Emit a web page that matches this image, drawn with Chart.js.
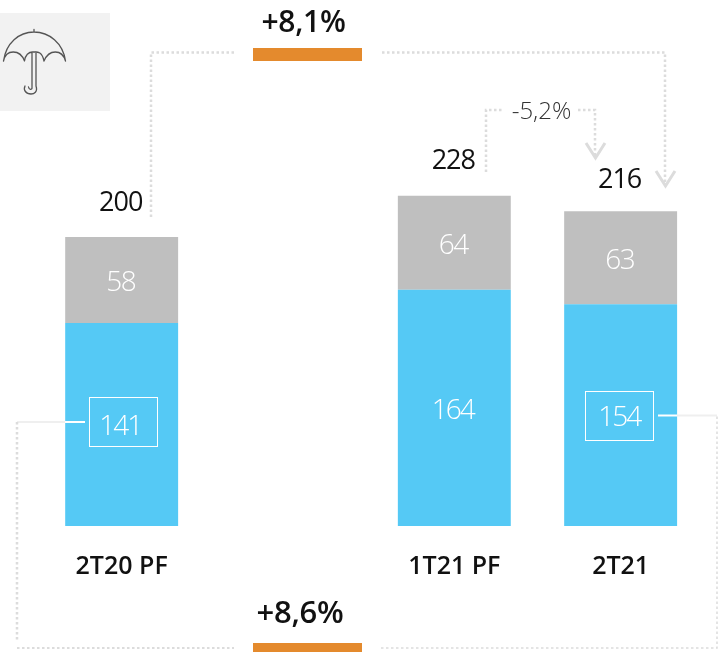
<!DOCTYPE html>
<html>
<head>
<meta charset="utf-8">
<style>html,body{margin:0;padding:0;background:#fff}canvas{display:block}</style>
<script src="https://cdn.jsdelivr.net/npm/chart.js@4"></script>
</head>
<body>
<canvas id="c" width="718" height="652"></canvas>
<script>
// Data. The blank category is the gap between the first bar and the others.
const categories = ['2T20 PF', '', '1T21 PF', '2T21'];
const blueValues = [141, null, 164, 154];
// Gray segment heights as drawn in the picture (in the same units as blue);
// the printed labels are slightly different in the source, kept separately.
const grayValues = [59.7, null, 65.3, 64.6];
const blueLabels = ['141', '', '164', '154'];
const grayLabels = ['58', '', '64', '63'];
const totalLabels = ['200', '', '228', '216'];
const growthTop = '+8,1%';
const growthBottom = '+8,6%';
const growthMiddle = '-5,2%';

const BLUE = '#55C9F5', GRAY = '#BFBFBF', ORANGE = '#E48A2D', DOT = '#DCDCDC';
const FONT = '"Open Sans"';
// label nudges relative to their bars
const totalOffset = [34, 0, 34, 31];
const boxes = [{ i: 0, dx: -33, dy: -27 }, { i: 3, dx: -36, dy: -24 }];

function txt(ctx, s, x, y, font, color, spacing) {
  ctx.font = font; ctx.fillStyle = color;
  ctx.textAlign = 'center'; ctx.textBaseline = 'middle';
  ctx.letterSpacing = (spacing || 0) + 'px';
  ctx.fillText(s, x, y);
  ctx.letterSpacing = '0px';
}
function poly(ctx, pts, color, width, dash) {
  ctx.save();
  ctx.strokeStyle = color; ctx.lineWidth = width; ctx.setLineDash(dash || []);
  ctx.beginPath();
  pts.forEach((p, i) => i ? ctx.lineTo(p[0], p[1]) : ctx.moveTo(p[0], p[1]));
  ctx.stroke();
  ctx.restore();
}
function umbrellaPath(ctx) {
  ctx.beginPath();
  ctx.moveTo(3.5, 61);
  ctx.bezierCurveTo(6, 43, 19, 32, 34, 32);
  ctx.bezierCurveTo(49, 32, 63, 43, 65.5, 61);
  ctx.moveTo(3.5, 61);
  ctx.bezierCurveTo(6, 49, 20, 49, 24.5, 61);
  ctx.bezierCurveTo(26, 51, 32, 52, 34, 52);
  ctx.bezierCurveTo(37, 52, 42, 51, 44, 61);
  ctx.bezierCurveTo(49, 49, 62, 49, 65.5, 61);
  ctx.moveTo(34, 32); ctx.lineTo(34, 29.5);
  ctx.moveTo(32, 52); ctx.lineTo(32, 88);
  ctx.moveTo(36, 52); ctx.lineTo(36, 86);
  ctx.bezierCurveTo(38, 92, 34, 94, 31, 94);
  ctx.bezierCurveTo(26, 94, 23, 90, 25, 86);
  ctx.moveTo(32, 88); ctx.bezierCurveTo(32, 90, 29, 90, 28.5, 87);
  ctx.stroke();
}

const overlay = {
  id: 'overlay',
  afterDatasetsDraw(chart) {
    const ctx = chart.ctx;
    const blue = chart.getDatasetMeta(0).data;
    const gray = chart.getDatasetMeta(1).data;
    ctx.save();

    // data labels tied to the bar elements
    categories.forEach((c, i) => {
      if (!c) return;
      const b = blue[i], g = gray[i];
      txt(ctx, blueLabels[i], b.x - 1.5, (b.y + b.base) / 2 + 3, '300 28px ' + FONT, '#FFFFFF', -2);
      txt(ctx, grayLabels[i], g.x - 1, (g.y + g.base) / 2 + 3.5, '300 28px ' + FONT, '#FFFFFF', -1.5);
      txt(ctx, totalLabels[i], g.x - 1, g.y - totalOffset[i], '400 27px ' + FONT, '#111111', -1);
    });

    // boxes around compared values
    ctx.strokeStyle = '#FFFFFF'; ctx.lineWidth = 1;
    boxes.forEach(o => {
      const b = blue[o.i], cy = (b.y + b.base) / 2;
      ctx.strokeRect(Math.round(b.x + o.dx) + 0.5, Math.round(cy + o.dy) + 0.5, 68, 49);
    });

    // white / light leader lines
    poly(ctx, [[17, 422], [65, 422]], '#EFEFEF', 2);
    poly(ctx, [[65, 422], [85, 422]], '#FFFFFF', 2);
    poly(ctx, [[658, 415.5], [677, 415.5]], '#FFFFFF', 2);
    poly(ctx, [[677, 415.5], [717, 415.5]], '#EFEFEF', 2);

    // dotted connectors
    const d = [2.5, 2.5];
    poly(ctx, [[151, 217], [151, 52.5], [234, 52.5]], DOT, 2.5, d);
    poly(ctx, [[382, 52.5], [665, 52.5], [665, 184]], DOT, 2.5, d);
    poly(ctx, [[486, 172], [486, 110], [502, 110]], DOT, 2.5, d);
    poly(ctx, [[578, 110], [595, 110], [595, 156]], DOT, 2.5, d);
    poly(ctx, [[17, 422], [17, 642]], DOT, 2.5, d);
    poly(ctx, [[17, 648], [234, 648]], DOT, 2, d);
    poly(ctx, [[381, 648], [717, 648], [717, 416]], DOT, 1.5, d);

    // chevrons
    poly(ctx, [[586, 143], [595.5, 158], [605, 143]], DOT, 3);
    poly(ctx, [[656, 171], [665.5, 186], [675, 171]], DOT, 3);

    // orange growth bars and texts
    ctx.fillStyle = ORANGE;
    ctx.fillRect(253, 48, 109, 13);
    ctx.fillRect(253, 643, 109, 9);
    txt(ctx, growthTop, 303.5, 23, '600 30px ' + FONT, '#111111', -0.3);
    txt(ctx, growthBottom, 300, 614, '600 31px ' + FONT, '#111111', -0.3);
    txt(ctx, growthMiddle, 541.5, 112, '300 24px ' + FONT, '#333333', 0);

    // icon
    ctx.fillStyle = '#F2F2F2';
    ctx.fillRect(0, 13, 110, 98);
    ctx.lineCap = 'round'; ctx.lineJoin = 'round';
    ctx.strokeStyle = '#555555'; ctx.lineWidth = 1.3;
    umbrellaPath(ctx);
    ctx.restore();
  }
};

new Chart(document.getElementById('c'), {
  type: 'bar',
  data: {
    labels: categories,
    datasets: [
      { data: blueValues, backgroundColor: BLUE, borderWidth: 0 },
      { data: grayValues, backgroundColor: GRAY, borderWidth: 0 }
    ]
  },
  options: {
    responsive: false,
    animation: false,
    devicePixelRatio: 1,
    layout: { padding: { left: 38.5, right: 14.2, top: 0, bottom: 0 } },
    plugins: { legend: { display: false }, tooltip: { enabled: false } },
    datasets: { bar: { categoryPercentage: 1, barPercentage: 0.679 } },
    scales: {
      x: {
        stacked: true,
        grid: { display: false },
        border: { display: false },
        ticks: {
          color: '#111111', padding: 18, maxRotation: 0, autoSkip: false,
          font: { family: 'Open Sans', size: 25, weight: '600' }
        },
        afterFit(s) { s.height = 126; }
      },
      y: {
        stacked: true, display: false, min: 0, max: 526 / 1.44
      }
    }
  },
  plugins: [overlay]
});
</script>
</body>
</html>
